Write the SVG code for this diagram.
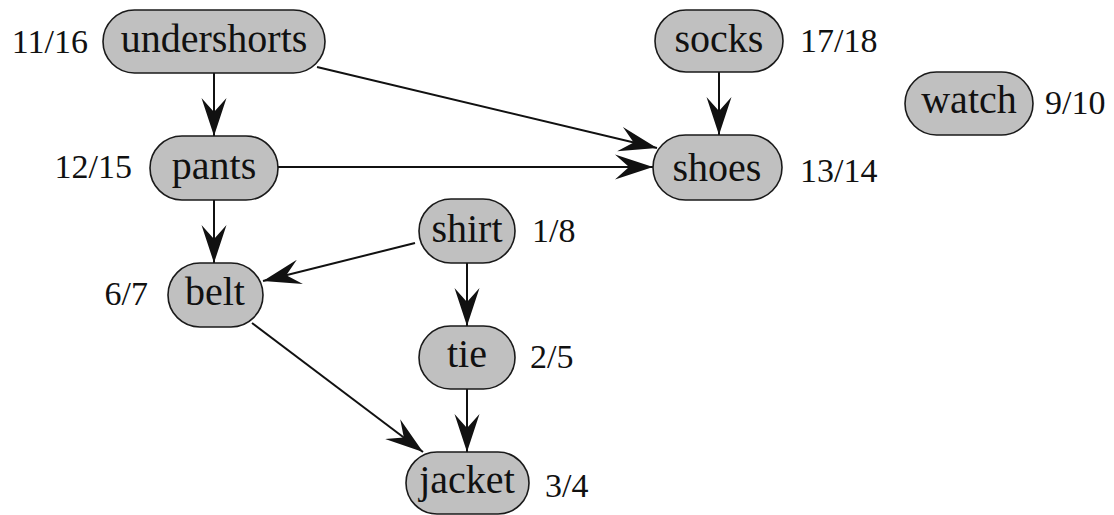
<svg xmlns="http://www.w3.org/2000/svg" width="1114" height="515" viewBox="0 0 1114 515">
<style>
.node rect{fill:#c0c0c0;stroke:#1a1a1a;stroke-width:1.6}
text{font-family:'Liberation Serif','Times New Roman',serif;fill:#111}
.lbl{font-size:40px;text-anchor:middle}
.num{font-size:34px}
.l{text-anchor:end}
.r{text-anchor:start}
.edge{stroke:#111;stroke-width:2;fill:none;marker-end:url(#arr)}
</style>
<defs>
<marker id="arr" markerUnits="userSpaceOnUse" markerWidth="40" markerHeight="26" viewBox="0 0 40 26" refX="38" refY="13" orient="auto">
<path d="M38,13 L0,0.5 L14,13 L0,25.5 Z" fill="#111"/>
</marker>
</defs>
<rect width="1114" height="515" fill="#fff"/>
<g id="connectors">
<line class="edge" x1="214" y1="73" x2="214" y2="136"/>
<line class="edge" x1="317" y1="67" x2="657" y2="148"/>
<line class="edge" x1="278" y1="167" x2="653" y2="167"/>
<line class="edge" x1="719" y1="72" x2="719" y2="135"/>
<line class="edge" x1="214" y1="200" x2="214" y2="263"/>
<line class="edge" x1="415" y1="243" x2="263" y2="281"/>
<line class="edge" x1="467" y1="263" x2="467" y2="326"/>
<line class="edge" x1="252" y1="323" x2="423" y2="452"/>
<line class="edge" x1="467" y1="389" x2="467" y2="452"/>
</g>
<g id="undershorts" class="node"><rect x="103" y="10" width="222" height="63" rx="31.5"/><text class="lbl" x="214" y="52">undershorts</text><text class="num l" x="88" y="53">11/16</text></g>
<g id="pants" class="node"><rect x="150" y="136" width="128" height="64" rx="32"/><text class="lbl" x="214" y="179">pants</text><text class="num l" x="132" y="178">12/15</text></g>
<g id="belt" class="node"><rect x="168" y="263" width="95" height="64" rx="32"/><text class="lbl" x="215" y="305">belt</text><text class="num l" x="148" y="305">6/7</text></g>
<g id="shirt" class="node"><rect x="419" y="199" width="96" height="64" rx="32"/><text class="lbl" x="467" y="242">shirt</text><text class="num r" x="532" y="242">1/8</text></g>
<g id="tie" class="node"><rect x="419" y="326" width="96" height="63" rx="31.5"/><text class="lbl" x="467" y="367">tie</text><text class="num r" x="530" y="368">2/5</text></g>
<g id="jacket" class="node"><rect x="406" y="452" width="123" height="62" rx="31"/><text class="lbl" x="467" y="493">jacket</text><text class="num r" x="545" y="497">3/4</text></g>
<g id="socks" class="node"><rect x="655" y="10" width="128" height="62" rx="31"/><text class="lbl" x="719" y="52">socks</text><text class="num r" x="800" y="52">17/18</text></g>
<g id="shoes" class="node"><rect x="653" y="135" width="129" height="65" rx="32.5"/><text class="lbl" x="717" y="181">shoes</text><text class="num r" x="800" y="182">13/14</text></g>
<g id="watch" class="node"><rect x="905" y="72" width="128" height="63" rx="31.5"/><text class="lbl" x="969" y="113">watch</text><text class="num r" x="1045" y="114">9/10</text></g>
</svg>
